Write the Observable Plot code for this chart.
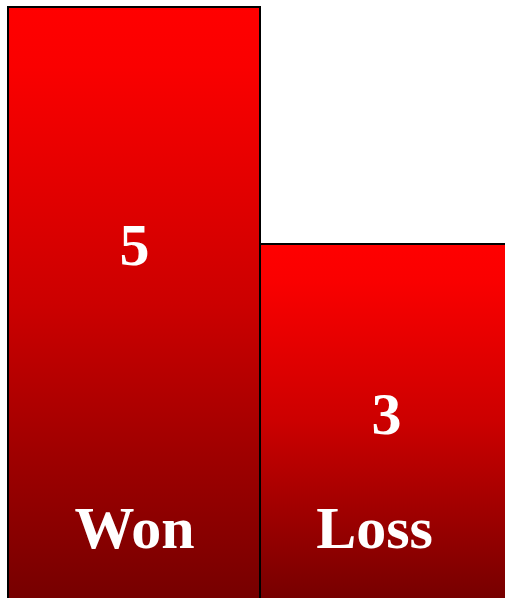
<!DOCTYPE html>
<html>
<head>
<meta charset="utf-8">
<script src="https://cdn.jsdelivr.net/npm/d3@7"></script>
<script src="https://cdn.jsdelivr.net/npm/@observablehq/plot@0.6"></script>
<style>
  html, body { margin: 0; padding: 0; background: white; }
  #chart { width: 505px; height: 598px; overflow: hidden; }
  #chart svg { overflow: hidden; }
</style>
</head>
<body>
<div id="chart"></div>
<script>
const categories = ["Won", "Loss"];
const values = [5, 3];

const data = categories.map((c, i) => ({category: c, value: values[i]}));
const font = "'Liberation Serif', 'Times New Roman', serif";

const plot = Plot.plot({
  width: 505,
  height: 598,
  margin: 0,
  style: {background: "white", overflow: "hidden"},
  x: {domain: categories, range: [8, 512], padding: 0, axis: null},
  y: {domain: [0, 5], range: [599.5, 7], axis: null},
  marks: [
    Plot.barY(data, {x: "category", y: "value", fill: "url(#barGrad)", stroke: "black", strokeWidth: 2}),
    Plot.text(data, {
      x: "category",
      y: d => d.value * 0.709 - 0.56,
      text: d => String(d.value),
      fill: "white",
      fontSize: 60,
      fontWeight: "bold",
      fontFamily: font
    }),
    Plot.text(data, {
      filter: d => d.category === categories[0],
      x: "category",
      y: 0,
      dy: -71,
      text: "category",
      fill: "white",
      fontSize: 60,
      fontWeight: "bold",
      fontFamily: font
    }),
    Plot.text(data, {
      filter: d => d.category === categories[1],
      x: "category",
      y: 0,
      dy: -71,
      dx: -12,
      text: "category",
      fill: "white",
      fontSize: 60,
      fontWeight: "bold",
      fontFamily: font
    })
  ]
});

const defs = d3.select(plot).insert("defs", ":first-child");
const grad = defs.append("linearGradient")
  .attr("id", "barGrad")
  .attr("x1", 0).attr("y1", 0).attr("x2", 0).attr("y2", 1);
[["0%", "#ff0000"], ["10%", "#fa0000"], ["50%", "#cc0000"], ["75%", "#a00000"], ["100%", "#760000"]]
  .forEach(([o, c]) => grad.append("stop").attr("offset", o).attr("stop-color", c));

document.getElementById("chart").appendChild(plot);
</script>
</body>
</html>
